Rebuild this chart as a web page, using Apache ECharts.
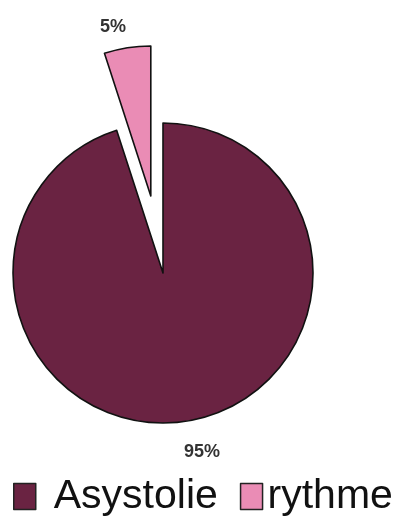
<!DOCTYPE html>
<html>
<head>
<meta charset="utf-8">
<script src="https://cdn.jsdelivr.net/npm/echarts@6/dist/echarts.min.js"></script>
<style>html,body{margin:0;padding:0;background:#fff;}#c{width:410px;height:517px;}</style>
</head>
<body>
<div id="c"></div>
<script>
const categories = ["Asystolie", "rythme"];
const values = [95, 5];
const labels = ["95%", "5%"];
const colors = ["#6a2342", "#ea8cb5"];

const chart = echarts.init(document.getElementById('c'), null, {renderer: 'canvas'});
chart.setOption({
  animation: false,
  backgroundColor: '#ffffff',
  legend: {
    left: 8,
    top: 471,
    itemWidth: 22,
    itemHeight: 26,
    itemGap: 22,
    icon: 'rect',
    itemStyle: {borderColor: '#222', borderWidth: 1.5},
    data: [
      {name: categories[0], textStyle: {padding: [0, 0, 0, 13]}},
      {name: categories[1], textStyle: {padding: [0, 0, 0, 0]}}
    ],
    textStyle: {fontFamily: 'Liberation Sans, Arial, sans-serif', fontSize: 41, color: '#111'}
  },
  series: [{
    type: 'pie',
    center: [163, 273],
    radius: [0, 150],
    startAngle: 90,
    clockwise: true,
    selectedMode: 'single',
    selectedOffset: 78,
    avoidLabelOverlap: false,
    silent: true,
    itemStyle: {borderColor: '#111', borderWidth: 1.6},
    label: {
      show: true,
      position: 'outside',
      fontFamily: 'Liberation Sans, Arial, sans-serif',
      fontSize: 18,
      fontWeight: 'bold',
      color: '#333',
      formatter: function (p) { return labels[p.dataIndex]; }
    },
    labelLine: {show: false},
    labelLayout: function (p) {
      if (p.dataIndex === 0) return {x: 202, y: 452, align: 'center', verticalAlign: 'middle'};
    },
    data: categories.map(function (c, i) {
      var d = {name: c, value: values[i], selected: i === 1, itemStyle: {color: colors[i]}};
      if (i === 1) d.labelLine = {show: false, length: 21, length2: -7};
      return d;
    })
  }]
});
</script>
</body>
</html>
